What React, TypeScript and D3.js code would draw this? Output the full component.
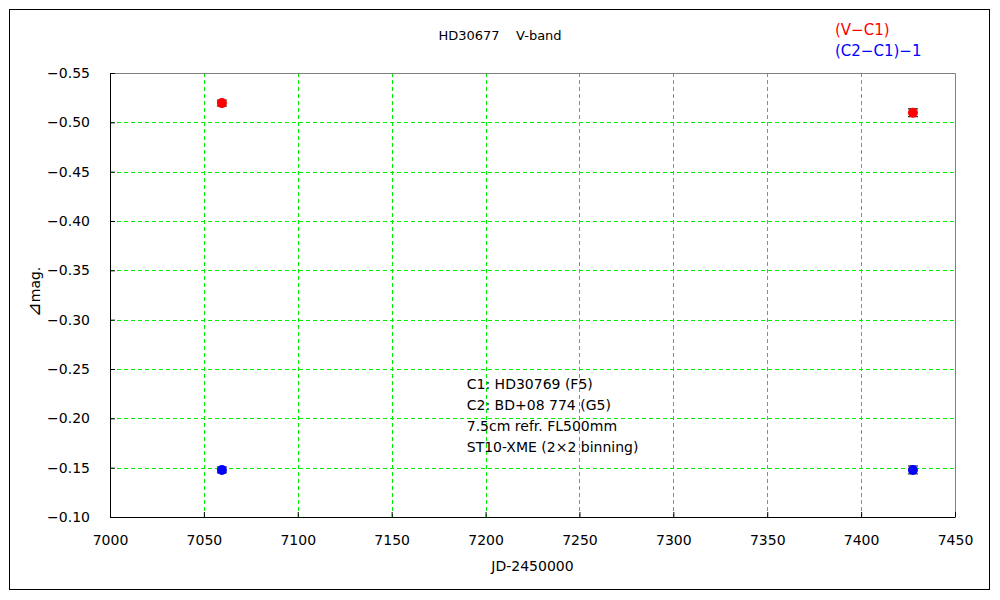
import { useEffect, useRef } from "react";
import * as d3 from "d3";

const WIDTH = 1000;
const HEIGHT = 600;
const MARGIN = { top: 73, right: 45, bottom: 83, left: 110 };

// observations (JD-2450000)
const jdDates = [7059.6, 7427.6];
const vMinusC1 = [-0.5195, -0.5097];
const vErr = [0.003, 0.004];
const c2MinusC1 = [-0.1477, -0.1477];
const cErr = [0.003, 0.004];

const xTicks = [7000, 7050, 7100, 7150, 7200, 7250, 7300, 7350, 7400, 7450];
const yTicks = [-0.55, -0.5, -0.45, -0.4, -0.35, -0.3, -0.25, -0.2, -0.15, -0.1];

const notes = [
  "C1: HD30769 (F5)",
  "C2: BD+08 774 (G5)",
  "7.5cm refr. FL500mm",
  "ST10-XME (2×2 binning)",
];

const FONT = "'DejaVu Sans', sans-serif";
const GRID = "#00ee00";

export default function App() {
  const axesRef = useRef<SVGGElement>(null);
  const boundsWidth = WIDTH - MARGIN.left - MARGIN.right;
  const boundsHeight = HEIGHT - MARGIN.top - MARGIN.bottom;

  const xScale = d3.scaleLinear().domain([7000, 7450]).range([0, boundsWidth]);
  const yScale = d3.scaleLinear().domain([-0.1, -0.55]).range([boundsHeight, 0]);
  const px = (v: number) => Math.round(v) + 0.5;

  useEffect(() => {
    const g = d3.select(axesRef.current);
    g.selectAll("*").remove();

    // grid
    g.append("g")
      .selectAll("line")
      .data(xTicks.slice(1, -1))
      .join("line")
      .attr("x1", (d) => px(xScale(d)))
      .attr("x2", (d) => px(xScale(d)))
      .attr("y1", 0)
      .attr("y2", boundsHeight)
      .attr("stroke", GRID)
      .attr("stroke-dasharray", "4,3");
    g.append("g")
      .selectAll("line")
      .data(yTicks.slice(1, -1))
      .join("line")
      .attr("x1", 0)
      .attr("x2", boundsWidth)
      .attr("y1", (d) => px(yScale(d)))
      .attr("y2", (d) => px(yScale(d)))
      .attr("stroke", GRID)
      .attr("stroke-dasharray", "4,3");

    // top / right frame
    g.append("path")
      .attr("d", `M0,0.5H${boundsWidth + 0.5}V${boundsHeight}`)
      .attr("fill", "none")
      .attr("stroke", "#808080");

    const xAxis = d3
      .axisBottom(xScale)
      .tickValues(xTicks)
      .tickSize(-5)
      .tickSizeOuter(0)
      .tickPadding(18)
      .tickFormat(d3.format("d"));
    const xg = g.append("g").attr("transform", `translate(0,${boundsHeight})`).call(xAxis);

    const yAxis = d3
      .axisLeft(yScale)
      .tickValues(yTicks)
      .tickSize(-5)
      .tickSizeOuter(0)
      .tickPadding(20)
      .tickFormat((d) => d3.format(".2f")(d as number).replace("-", "−"));
    const yg = g.append("g").call(yAxis);

    [xg, yg].forEach((a) => {
      a.selectAll("path, line").attr("stroke", "#000");
      a.selectAll("text")
        .attr("fill", "#000")
        .style("font-family", FONT)
        .style("font-size", "14px");
    });
  }, [xScale, yScale, boundsHeight, boundsWidth]);

  const series = [
    { vals: vMinusC1, errs: vErr, color: "#ff0000" },
    { vals: c2MinusC1, errs: cErr, color: "#0000ff" },
  ];

  return (
    <svg width={WIDTH} height={HEIGHT} style={{ position: "absolute", left: 0, top: 0 }}>
      <rect x={0} y={0} width={WIDTH} height={HEIGHT} fill="#fff" />
      <rect x={9.5} y={9.5} width={980} height={580} fill="none" stroke="#000" />
      <text x={500} y={40} textAnchor="middle" fontFamily={FONT} fontSize={13}>
        HD30677{"\u00a0\u00a0\u00a0\u00a0"}V-band
      </text>
      <text x={835} y={35} fontFamily={FONT} fontSize={15} fill="#ff0000">
        (V−C1)
      </text>
      <text x={835} y={56} fontFamily={FONT} fontSize={15} fill="#0000ff">
        (C2−C1)−1
      </text>
      <text
        transform="translate(40,292) rotate(-90)"
        textAnchor="middle"
        fontFamily={FONT}
        fontSize={14}
      >
        <tspan fontSize={18}>⊿</tspan>mag.
      </text>
      <text x={MARGIN.left + boundsWidth / 2} y={571} textAnchor="middle" fontFamily={FONT} fontSize={14}>
        JD-2450000
      </text>
      <g transform={`translate(${MARGIN.left},${MARGIN.top})`}>
        <g ref={axesRef} />
        {series.map((s, si) =>
          jdDates.map((jd, i) => {
            const cx = xScale(jd);
            const cy = yScale(s.vals[i]);
            const y1 = yScale(s.vals[i] - s.errs[i]);
            const y2 = yScale(s.vals[i] + s.errs[i]);
            return (
              <g key={`${si}-${i}`}>
                <line x1={cx} x2={cx} y1={y1} y2={y2} stroke="#000" />
                <line x1={cx - 5} x2={cx + 5} y1={y1} y2={y1} stroke="#000" />
                <line x1={cx - 5} x2={cx + 5} y1={y2} y2={y2} stroke="#000" />
                <circle cx={cx} cy={cy} r={5} fill={s.color} />
              </g>
            );
          })
        )}
        {notes.map((t, i) => (
          <text
            key={t}
            x={xScale(7190)}
            y={yScale(-0.25) + 20 + i * 21}
            fontFamily={FONT}
            fontSize={14}
          >
            {t}
          </text>
        ))}
      </g>
    </svg>
  );
}
